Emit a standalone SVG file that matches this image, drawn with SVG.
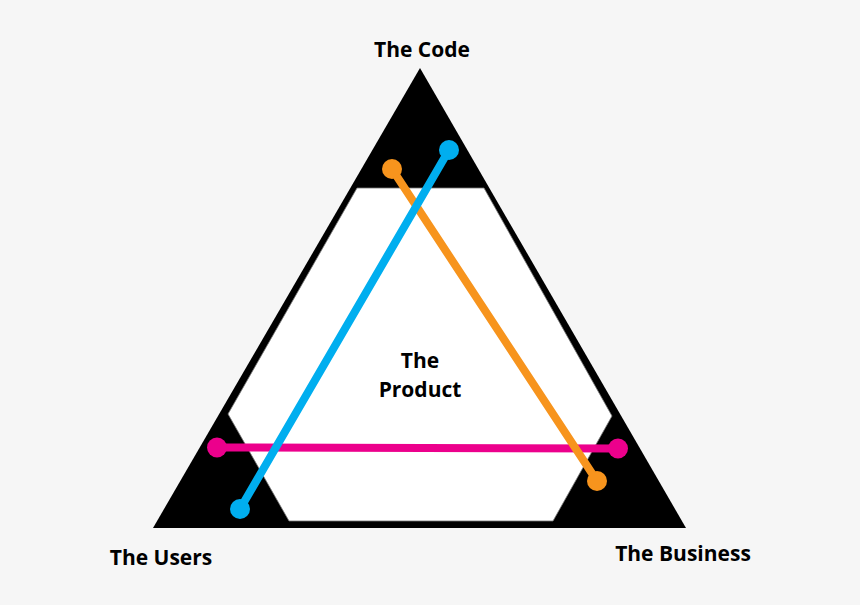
<svg xmlns="http://www.w3.org/2000/svg" width="860" height="605" viewBox="0 0 860 605">
  <style>
    .lbl { font-family: "Open Sans", "Liberation Sans", sans-serif; font-weight: 700; font-size: 21px; fill: #000; }
    .link { stroke-width: 8; stroke-linecap: round; fill: none; }
  </style>
  <rect width="860" height="605" fill="#f6f6f6"/>
  <g id="triangle">
    <polygon points="420,68 153,528 686,528" fill="#000"/>
    <polygon points="357,188 484,188 612,416 553,521 289,521 228,414" fill="#fff" stroke="#777" stroke-width="0.8"/>
  </g>
  <g id="node-code"><text class="lbl" x="422" y="57" text-anchor="middle">The Code</text></g>
  <g id="node-users"><text class="lbl" x="161" y="565" text-anchor="middle">The Users</text></g>
  <g id="node-business"><text class="lbl" x="683" y="561" text-anchor="middle">The Business</text></g>
  <g id="node-product">
    <text class="lbl" x="420" y="368" text-anchor="middle">The</text>
    <text class="lbl" x="420" y="397" text-anchor="middle">Product</text>
  </g>
  <g id="connectors">
    <g fill="#ec008c">
      <line class="link" x1="217" y1="447.5" x2="618" y2="448.5" stroke="#ec008c"/>
      <circle cx="217" cy="447.5" r="10"/>
      <circle cx="618" cy="448.5" r="10"/>
    </g>
    <g fill="#f7941d">
      <line class="link" x1="392" y1="169" x2="597" y2="481" stroke="#f7941d"/>
      <circle cx="392" cy="169" r="10"/>
      <circle cx="597" cy="481" r="10"/>
    </g>
    <g fill="#00aeef">
      <line class="link" x1="240" y1="509" x2="449" y2="150" stroke="#00aeef"/>
      <circle cx="240" cy="509" r="10"/>
      <circle cx="449" cy="150" r="10"/>
    </g>
  </g>
</svg>
